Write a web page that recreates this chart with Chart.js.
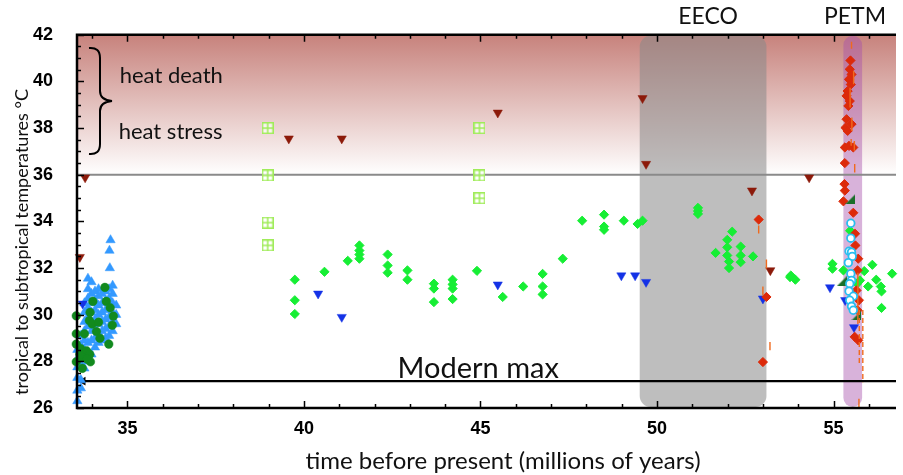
<!DOCTYPE html>
<html><head><meta charset="utf-8">
<script src="https://cdn.jsdelivr.net/npm/chart.js@4"></script>
<style>html,body{margin:0;padding:0;background:#fff}#wrap{width:903px;height:475px;position:relative}</style>
</head><body><div id="wrap"><canvas id="c" width="903" height="475"></canvas></div>
<script>
// ---------- axis definitions ----------
const xRange = [33.57, 56.77];
const yRange = [26, 42];
const xTickLabels = [35, 40, 45, 50, 55];
const yTickLabels = [26, 28, 30, 32, 34, 36, 38, 40, 42];
const heatStressLevel = [36];
const modernMax = [33.74, 27.15];
// shaded intervals [start, end]
const eecoBand = [49.51, 53.1];
const petmBand = [55.28, 55.81];

// ---------- data (millions of years, °C) ----------
const blueUpTri = [
 [33.58,26.3],[33.58,26.75],[33.58,27.3],[33.58,27.75],[33.58,28.1],[33.58,28.5],
 [33.68,26.85],[33.68,27.2],[33.68,27.9],[33.68,28.3],[33.68,28.7],[33.68,29.1],
 [33.78,27.7],[33.78,28.1],[33.78,28.5],[33.78,28.9],[33.78,29.3],[33.78,29.7],[33.78,30.1],[33.78,30.5],
 [33.88,28.0],[33.88,28.4],[33.88,28.8],[33.88,29.5],[33.88,29.9],[33.88,30.3],[33.88,30.7],[33.88,31.1],[33.88,31.55],
 [33.98,28.3],[33.98,28.9],[33.98,29.3],[33.98,29.7],[33.98,30.1],[33.98,30.5],[33.98,30.9],[33.98,31.4],
 [34.08,28.6],[34.08,29.0],[34.08,29.4],[34.08,29.8],[34.08,30.2],[34.08,30.6],[34.08,31.0],
 [34.18,28.8],[34.18,29.2],[34.18,29.6],[34.18,30.0],[34.18,30.4],[34.18,30.8],[34.18,31.1],
 [34.28,28.9],[34.28,29.3],[34.28,29.7],[34.28,30.1],[34.28,30.5],[34.28,30.9],
 [34.38,29.0],[34.38,29.4],[34.38,29.8],[34.38,30.2],[34.38,30.6],[34.38,31.0],
 [34.48,29.1],[34.48,29.5],[34.48,29.9],[34.48,30.3],[34.48,30.7],[34.48,31.1],[34.5,32.0],[34.49,32.75],[34.52,33.2],
 [34.58,29.3],[34.58,29.7],[34.58,30.1],[34.58,30.5],[34.58,30.9],[34.58,31.25],
 [34.68,29.6],[34.68,30.0],[34.68,30.4]
];
const greenCircles = [
 [34.36,31.17],[34.02,30.57],[34.4,30.57],[34.51,30.3],[34.6,29.94],[34.57,29.55],
 [33.55,29.95],[33.55,29.18],[33.78,29.18],[33.55,28.74],[33.94,30.1],[33.92,29.75],
 [34.0,29.6],[34.18,29.68],[34.12,29.28],[34.22,28.99],[34.47,28.74],[33.67,28.55],
 [33.84,28.45],[33.93,28.3],[33.7,28.17],[33.55,27.98],[33.95,27.98],[33.72,27.7],
 [33.85,28.1],[33.65,28.3]
];
const brightGreenDiamonds = [
 [39.74,31.5],[39.74,30.62],[39.74,30.03],[40.58,31.84],[41.24,32.31],[41.57,32.97],
 [41.57,32.75],[41.57,32.58],[41.57,32.4],[42.37,32.58],[42.37,32.11],[42.37,31.8],
 [42.93,31.9],[42.93,31.5],[43.68,31.33],[43.68,31.12],[43.68,30.54],[44.21,31.5],
 [44.21,31.3],[44.21,31.12],[44.21,30.67],[44.9,31.88],[45.63,30.76],[46.21,31.21],
 [46.76,31.75],[46.76,31.21],[46.76,30.87],[47.33,32.4],[47.88,34.03],[48.5,34.29],
 [48.5,33.78],[48.5,33.64],[49.06,34.03],[49.45,33.89],[49.59,34.03],[51.16,34.58],
 [51.16,34.45],[51.16,34.32],[52.13,33.56],[51.99,33.21],[51.66,32.65],[51.99,32.89],
 [51.99,32.54],[52.04,32.28],[52.04,32.0],[52.37,32.92],[52.37,32.54],[52.37,32.25],
 [52.72,32.5],[53.77,31.61],[53.79,31.68],[53.92,31.5],[54.97,32.18],[54.97,31.97],
 [55.28,31.9],[55.47,33.6],[55.75,31.47],[56.1,32.14],[55.87,31.87],[56.21,31.5],
 [55.98,31.21],[56.34,31.21],[56.36,31.0],[56.66,31.76],[56.36,30.29],[55.67,31.33]
];
const squareCross = [
 [38.97,38.0],[38.97,35.97],[38.97,33.95],[38.97,32.97],
 [44.97,38.0],[44.97,35.97],[44.97,34.99]
];
const darkRedDownTri = [
 [33.8,35.88],[33.65,32.47],[39.57,37.55],[41.07,37.55],[45.49,38.66],
 [49.59,39.28],[49.69,36.46],[52.69,35.32],[54.31,35.88],[53.21,31.9]
];
const blueDownTri = [
 [33.73,30.47],[40.4,30.9],[41.07,29.9],[45.49,31.29],[48.99,31.68],[49.38,31.68],
 [49.69,31.4],[53.0,30.69],[54.9,31.17],[55.33,30.62],[55.58,29.46]
];
const redDiamonds = [
 [55.48,40.9],[55.46,40.52],[55.51,40.3],[55.44,40.09],[55.49,39.87],[55.4,39.59],
 [55.37,39.38],[55.46,39.16],[55.42,38.95],[55.37,38.38],[55.51,38.17],[55.34,38.02],
 [55.4,37.88],[55.32,37.17],[55.44,37.24],[55.56,37.17],[55.32,36.5],[55.31,35.6],
 [55.32,35.32],[55.28,34.86],[55.56,34.37],[55.61,33.47],[55.62,32.97],[55.7,32.4],
 [55.68,31.9],[55.65,31.04],[55.72,30.62],[55.68,30.19],[55.6,29.05],[55.7,28.9],
 [52.88,34.08],[53.1,30.76],[53.0,27.97]
];
const cyanCircles = [
 [55.49,33.92],[55.49,33.28],[55.44,32.72],[55.51,32.68],[55.53,32.5],[55.42,32.23],
 [55.49,31.76],[55.51,31.47],[55.46,31.33],[55.44,31.01],[55.56,30.79],[55.46,30.62],
 [55.51,30.36],[55.56,30.19]
];
const greenWedges = [[55.48,34.96],[55.23,31.43],[55.65,29.97]];
// vertical ranges [x, yTop, yBottom]
const orangeRanges = [
 [55.51,41.7,41.4],[55.57,40.45,39.88],[55.47,39.73,38.88],[55.52,38.45,37.88],
 [55.5,37.53,37.24],[55.59,37.45,37.03],[55.6,36.46,36.1],[52.88,33.82,33.48],
 [53.1,32.37,31.98],[53.0,31.21,30.83],[53.2,28.83,28.48],[55.69,31.8,29.6],[55.72,26.4,26.02]
];
const orangeDashedRanges = [[55.73,30.2,27.9],[55.83,30.2,27.1]];

// ---------- helpers ----------
const pts = a => a.map(([x, y]) => ({x, y}));
const segs = a => a.flatMap(([x, y0, y1]) => [{x, y: y0}, {x, y: y1}, {x, y: null}]);

function makeSquareCross() {
  const c = document.createElement('canvas'); c.width = 12; c.height = 12;
  const g = c.getContext('2d');
  g.fillStyle = 'rgba(255,255,255,0.7)'; g.fillRect(0, 0, 12, 12);
  g.strokeStyle = '#a0ec5a'; g.lineWidth = 1.5;
  g.strokeRect(0.75, 0.75, 10.5, 10.5);
  g.beginPath(); g.moveTo(6, 0.75); g.lineTo(6, 11.25); g.moveTo(0.75, 6); g.lineTo(11.25, 6); g.stroke();
  return c;
}
function makeWedge() {
  const c = document.createElement('canvas'); c.width = 10; c.height = 10;
  const g = c.getContext('2d');
  g.fillStyle = '#1a6e2a';
  g.beginPath(); g.moveTo(10, 0); g.lineTo(10, 10); g.lineTo(0, 10); g.closePath(); g.fill();
  return c;
}

const markerBase = {showLine: false, clip: false, borderWidth: 1};

const decor = {
  id: 'decor',
  beforeDatasetsDraw(chart) {
    const {ctx, chartArea: a, scales: {x, y}} = chart;
    ctx.save();
    // heat zone gradient
    const yTop = y.getPixelForValue(yRange[1]), yHs = y.getPixelForValue(heatStressLevel[0]);
    const gr = ctx.createLinearGradient(0, yTop, 0, yHs);
    gr.addColorStop(0, 'rgb(199,130,124)');
    gr.addColorStop(1, 'rgb(255,255,255)');
    ctx.fillStyle = gr;
    ctx.fillRect(a.left, yTop, a.right - a.left, yHs - yTop);
    // bands
    const band = (r, color, rad) => {
      const x0 = x.getPixelForValue(r[0]), x1 = x.getPixelForValue(r[1]);
      const t = a.top + 1, b = a.bottom - 1;
      ctx.fillStyle = color;
      ctx.beginPath();
      ctx.roundRect(x0, t, x1 - x0, b - t, rad);
      ctx.fill();
    };
    band(eecoBand, 'rgba(136,136,136,0.55)', 11);
    const pw = x.getPixelForValue(petmBand[1]) - x.getPixelForValue(petmBand[0]);
    band(petmBand, 'rgba(166,79,170,0.44)', pw / 2);
    ctx.restore();
  },
  afterDatasetsDraw(chart) {
    const {ctx, chartArea: a, scales: {x, y}} = chart;
    ctx.save();
    ctx.strokeStyle = '#000';
    // ticks
    ctx.lineWidth = 1.5;
    ctx.beginPath();
    for (let v = yRange[0]; v <= yRange[1] + 1e-9; v += 0.5) {
      const py = Math.round(y.getPixelForValue(v)) + 0.5;
      const L = (v % 2 === 0) ? 7 : 4;
      ctx.moveTo(a.left, py); ctx.lineTo(a.left + L, py);
    }
    for (let v = Math.ceil(xRange[0]); v <= xRange[1]; v += 1) {
      const px = Math.round(x.getPixelForValue(v)) + 0.5;
      const L = (v % 5 === 0) ? 7 : 4;
      ctx.moveTo(px, a.bottom); ctx.lineTo(px, a.bottom - L);
      ctx.moveTo(px, a.top); ctx.lineTo(px, a.top + L);
    }
    ctx.stroke();
    // frame
    ctx.lineWidth = 2.5;
    ctx.beginPath();
    ctx.moveTo(a.right, a.top); ctx.lineTo(a.left, a.top); ctx.lineTo(a.left, a.bottom); ctx.lineTo(a.right, a.bottom);
    ctx.stroke();
    // brace
    ctx.lineWidth = 2;
    ctx.beginPath();
    ctx.moveTo(89, 48);
    ctx.quadraticCurveTo(100, 47, 100, 58);
    ctx.lineTo(100, 91);
    ctx.quadraticCurveTo(100, 100, 112, 101);
    ctx.quadraticCurveTo(100, 102, 100, 111);
    ctx.lineTo(100, 144);
    ctx.quadraticCurveTo(100, 155, 89, 154);
    ctx.stroke();
    // texts
    ctx.fillStyle = '#111';
    ctx.textBaseline = 'alphabetic';
    ctx.textAlign = 'left';
    ctx.font = '22px Lato';
    ctx.fillText('heat death', x.getPixelForValue(34.78), 83);
    ctx.fillText('heat stress', x.getPixelForValue(34.75), 139);
    ctx.font = '29px Lato';
    ctx.fillText('Modern max', x.getPixelForValue(42.65), y.getPixelForValue(modernMax[1]) - 3);
    ctx.textAlign = 'center';
    ctx.textBaseline = 'middle';
    ctx.font = '23px Lato';
    ctx.fillText('EECO', 708, 17);
    ctx.fillText('PETM', 855, 17);
    ctx.font = '24px Lato';
    ctx.fillText('time before present (millions of years)', 503, 461);
    ctx.save();
    ctx.translate(22, 242);
    ctx.rotate(-Math.PI / 2);
    ctx.font = '18px Lato';
    ctx.fillText('tropical to subtropical temperatures °C', 0, 0);
    ctx.restore();
    ctx.restore();
  }
};

new Chart(document.getElementById('c'), {
  type: 'scatter',
  data: {
    datasets: [
      {...markerBase, order: 1, data: pts(cyanCircles), pointStyle: 'circle', pointRadius: 3.8,
        backgroundColor: '#ffffff', borderColor: '#28bef0', borderWidth: 1.8},
      {order: 2, data: segs(orangeRanges), showLine: true, spanGaps: false, pointRadius: 0,
        borderColor: '#f06a1e', borderWidth: 1.4, clip: false},
      {order: 2, data: segs(orangeDashedRanges), showLine: true, spanGaps: false, pointRadius: 0,
        borderColor: '#f06a1e', borderWidth: 1.4, borderDash: [5, 3], clip: false},
      {...markerBase, order: 3, data: pts(greenWedges), pointStyle: makeWedge(), pointRadius: 5},
      {...markerBase, order: 4, data: pts(redDiamonds), pointStyle: 'rectRot', pointRadius: 4.6,
        backgroundColor: '#dc2a0a', borderColor: '#dc2a0a'},
      {...markerBase, order: 5, data: pts(blueDownTri), pointStyle: 'triangle', rotation: 180, pointRadius: 5.3,
        backgroundColor: '#1432e6', borderColor: '#1432e6', borderWidth: 0.5},
      {...markerBase, order: 6, data: pts(darkRedDownTri), pointStyle: 'triangle', rotation: 180, pointRadius: 5.3,
        backgroundColor: '#8c1a0a', borderColor: '#8c1a0a', borderWidth: 0.5},
      {...markerBase, order: 7, data: pts(greenCircles), pointStyle: 'circle', pointRadius: 4.3,
        backgroundColor: '#128a1e', borderColor: '#128a1e', borderWidth: 0.5},
      {...markerBase, order: 8, data: pts(blueUpTri), pointStyle: 'triangle', pointRadius: 5.4,
        backgroundColor: '#3399ff', borderColor: '#3399ff', borderWidth: 0.5},
      {...markerBase, order: 9, data: pts(squareCross), pointStyle: makeSquareCross(), pointRadius: 6},
      {...markerBase, order: 10, data: pts(brightGreenDiamonds), pointStyle: 'rectRot', pointRadius: 4.6,
        backgroundColor: '#16ee34', borderColor: '#16ee34'},
      {order: 11, data: [{x: modernMax[0], y: modernMax[1]}, {x: xRange[1], y: modernMax[1]}], showLine: true,
        borderColor: '#000', borderWidth: 2.2, pointRadius: [5, 0], pointStyle: 'triangle', rotation: -90,
        pointBackgroundColor: '#000', pointBorderColor: '#000', pointBorderWidth: 0, clip: false},
      {order: 12, data: [{x: xRange[0], y: heatStressLevel[0]}, {x: xRange[1], y: heatStressLevel[0]}], showLine: true,
        borderColor: '#8a8a8a', borderWidth: 2, pointRadius: 0}
    ]
  },
  options: {
    responsive: false,
    devicePixelRatio: 1,
    animation: false,
    events: [],
    layout: {padding: {top: 34, right: 0, bottom: 0, left: 0}},
    plugins: {legend: {display: false}, tooltip: {enabled: false}},
    scales: {
      x: {
        type: 'linear', min: xRange[0], max: xRange[1],
        grid: {display: false, drawTicks: false}, border: {display: false},
        afterBuildTicks: s => { s.ticks = xTickLabels.map(v => ({value: v})); },
        afterFit: s => { s.height = 67; },
        ticks: {autoSkip: false, maxRotation: 0, padding: 10, color: '#000',
          font: {family: 'Liberation Sans', weight: 'bold', size: 18}}
      },
      y: {
        type: 'linear', min: yRange[0], max: yRange[1],
        grid: {display: false, drawTicks: false}, border: {display: false},
        afterBuildTicks: s => { s.ticks = yTickLabels.map(v => ({value: v})); },
        afterFit: s => { s.width = 77; },
        ticks: {autoSkip: false, padding: 24, color: '#000',
          font: {family: 'Liberation Sans', weight: 'bold', size: 18}}
      }
    }
  },
  plugins: [decor]
});
</script>
</body></html>
